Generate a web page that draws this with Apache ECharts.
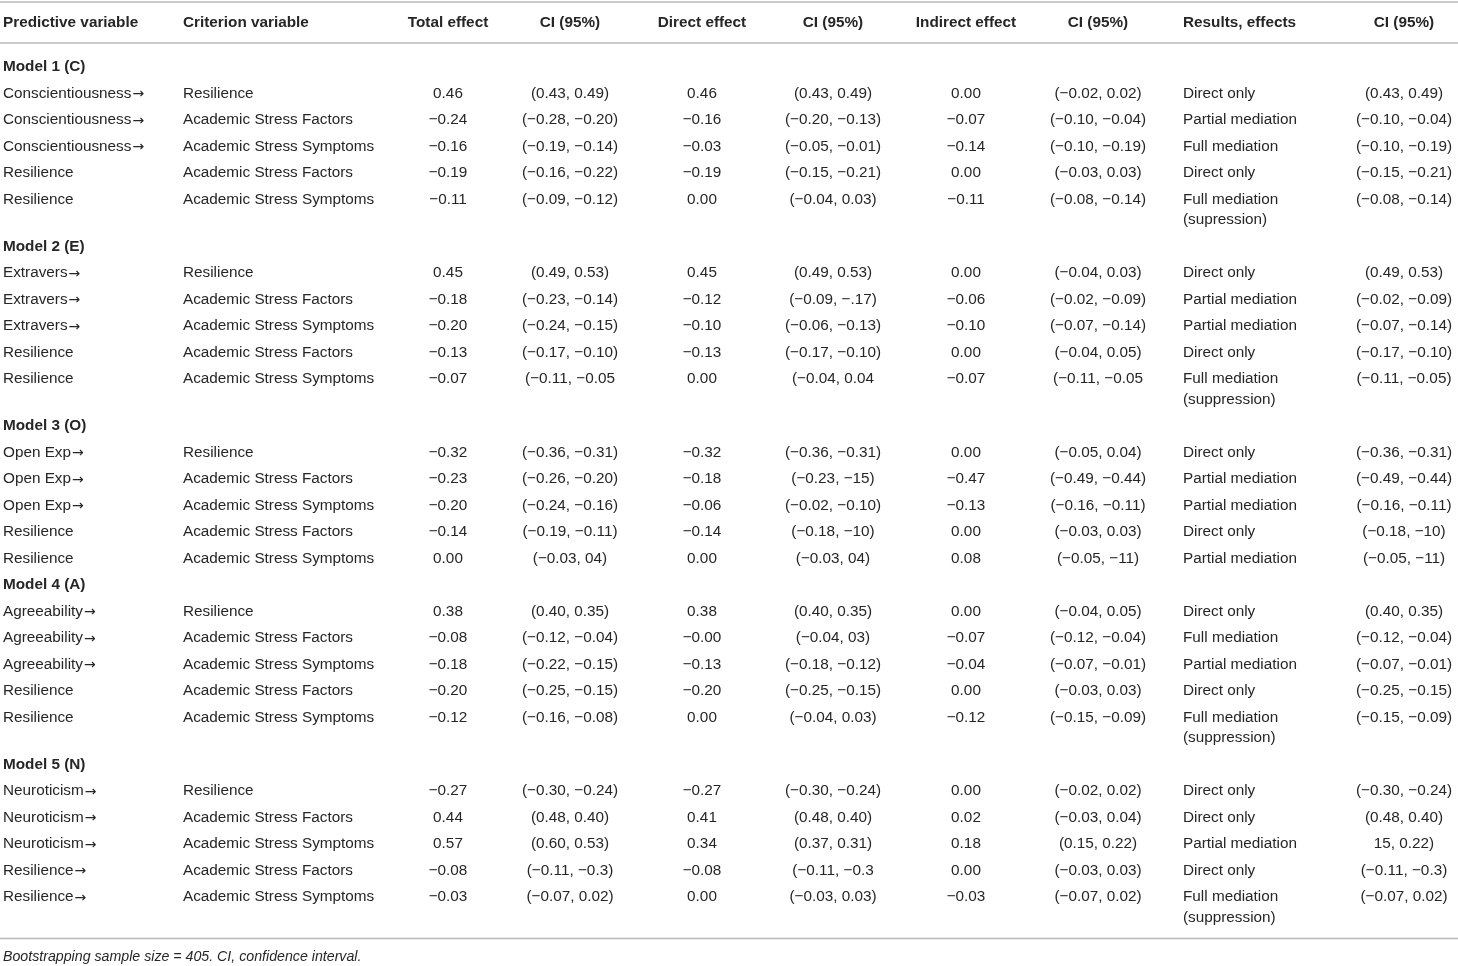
<!DOCTYPE html>
<html>
<head>
<meta charset="utf-8">
<title>Mediation effects table</title>
<script src="https://cdn.jsdelivr.net/npm/echarts@6.0.0/dist/echarts.min.js"></script>
<style>
  html, body { margin: 0; padding: 0; background: #fff; }
  #table { width: 1458px; height: 966px; }
</style>
</head>
<body>
<div id="table"></div>
<script>
(function () {
  'use strict';

  // --- Table data ---
  const headers = ['Predictive variable', 'Criterion variable', 'Total effect', 'CI (95%)',
    'Direct effect', 'CI (95%)', 'Indirect effect', 'CI (95%)', 'Results, effects', 'CI (95%)'];

  const modelNames = ['Model 1 (C)', 'Model 2 (E)', 'Model 3 (O)', 'Model 4 (A)', 'Model 5 (N)'];
  const modelSizes = [5, 5, 5, 5, 5];

  const predictors = [
    'Conscientiousness→', 'Conscientiousness→', 'Conscientiousness→', 'Resilience', 'Resilience',
    'Extravers→', 'Extravers→', 'Extravers→', 'Resilience', 'Resilience',
    'Open Exp→', 'Open Exp→', 'Open Exp→', 'Resilience', 'Resilience',
    'Agreeability→', 'Agreeability→', 'Agreeability→', 'Resilience', 'Resilience',
    'Neuroticism→', 'Neuroticism→', 'Neuroticism→', 'Resilience→', 'Resilience→'
  ];

  const criteria = [
    'Resilience', 'Academic Stress Factors', 'Academic Stress Symptoms', 'Academic Stress Factors', 'Academic Stress Symptoms',
    'Resilience', 'Academic Stress Factors', 'Academic Stress Symptoms', 'Academic Stress Factors', 'Academic Stress Symptoms',
    'Resilience', 'Academic Stress Factors', 'Academic Stress Symptoms', 'Academic Stress Factors', 'Academic Stress Symptoms',
    'Resilience', 'Academic Stress Factors', 'Academic Stress Symptoms', 'Academic Stress Factors', 'Academic Stress Symptoms',
    'Resilience', 'Academic Stress Factors', 'Academic Stress Symptoms', 'Academic Stress Factors', 'Academic Stress Symptoms'
  ];

  const totalEffect = [
    0.46, -0.24, -0.16, -0.19, -0.11,
    0.45, -0.18, -0.20, -0.13, -0.07,
    -0.32, -0.23, -0.20, -0.14, 0.00,
    0.38, -0.08, -0.18, -0.20, -0.12,
    -0.27, 0.44, 0.57, -0.08, -0.03
  ];

  const totalCI = [
    '(0.43, 0.49)', '(−0.28, −0.20)', '(−0.19, −0.14)', '(−0.16, −0.22)', '(−0.09, −0.12)',
    '(0.49, 0.53)', '(−0.23, −0.14)', '(−0.24, −0.15)', '(−0.17, −0.10)', '(−0.11, −0.05',
    '(−0.36, −0.31)', '(−0.26, −0.20)', '(−0.24, −0.16)', '(−0.19, −0.11)', '(−0.03, 04)',
    '(0.40, 0.35)', '(−0.12, −0.04)', '(−0.22, −0.15)', '(−0.25, −0.15)', '(−0.16, −0.08)',
    '(−0.30, −0.24)', '(0.48, 0.40)', '(0.60, 0.53)', '(−0.11, −0.3)', '(−0.07, 0.02)'
  ];

  const directEffect = [
    0.46, -0.16, -0.03, -0.19, 0.00,
    0.45, -0.12, -0.10, -0.13, 0.00,
    -0.32, -0.18, -0.06, -0.14, 0.00,
    0.38, -0.00, -0.13, -0.20, 0.00,
    -0.27, 0.41, 0.34, -0.08, 0.00
  ];

  const directCI = [
    '(0.43, 0.49)', '(−0.20, −0.13)', '(−0.05, −0.01)', '(−0.15, −0.21)', '(−0.04, 0.03)',
    '(0.49, 0.53)', '(−0.09, −.17)', '(−0.06, −0.13)', '(−0.17, −0.10)', '(−0.04, 0.04',
    '(−0.36, −0.31)', '(−0.23, −15)', '(−0.02, −0.10)', '(−0.18, −10)', '(−0.03, 04)',
    '(0.40, 0.35)', '(−0.04, 03)', '(−0.18, −0.12)', '(−0.25, −0.15)', '(−0.04, 0.03)',
    '(−0.30, −0.24)', '(0.48, 0.40)', '(0.37, 0.31)', '(−0.11, −0.3', '(−0.03, 0.03)'
  ];

  const indirectEffect = [
    0.00, -0.07, -0.14, 0.00, -0.11,
    0.00, -0.06, -0.10, 0.00, -0.07,
    0.00, -0.47, -0.13, 0.00, 0.08,
    0.00, -0.07, -0.04, 0.00, -0.12,
    0.00, 0.02, 0.18, 0.00, -0.03
  ];

  const indirectCI = [
    '(−0.02, 0.02)', '(−0.10, −0.04)', '(−0.10, −0.19)', '(−0.03, 0.03)', '(−0.08, −0.14)',
    '(−0.04, 0.03)', '(−0.02, −0.09)', '(−0.07, −0.14)', '(−0.04, 0.05)', '(−0.11, −0.05',
    '(−0.05, 0.04)', '(−0.49, −0.44)', '(−0.16, −0.11)', '(−0.03, 0.03)', '(−0.05, −11)',
    '(−0.04, 0.05)', '(−0.12, −0.04)', '(−0.07, −0.01)', '(−0.03, 0.03)', '(−0.15, −0.09)',
    '(−0.02, 0.02)', '(−0.03, 0.04)', '(0.15, 0.22)', '(−0.03, 0.03)', '(−0.07, 0.02)'
  ];

  const results = [
    'Direct only', 'Partial mediation', 'Full mediation', 'Direct only', 'Full mediation\n(supression)',
    'Direct only', 'Partial mediation', 'Partial mediation', 'Direct only', 'Full mediation\n(suppression)',
    'Direct only', 'Partial mediation', 'Partial mediation', 'Direct only', 'Partial mediation',
    'Direct only', 'Full mediation', 'Partial mediation', 'Direct only', 'Full mediation\n(suppression)',
    'Direct only', 'Direct only', 'Partial mediation', 'Direct only', 'Full mediation\n(suppression)'
  ];

  const resultCI = [
    '(0.43, 0.49)', '(−0.10, −0.04)', '(−0.10, −0.19)', '(−0.15, −0.21)', '(−0.08, −0.14)',
    '(0.49, 0.53)', '(−0.02, −0.09)', '(−0.07, −0.14)', '(−0.17, −0.10)', '(−0.11, −0.05)',
    '(−0.36, −0.31)', '(−0.49, −0.44)', '(−0.16, −0.11)', '(−0.18, −10)', '(−0.05, −11)',
    '(0.40, 0.35)', '(−0.12, −0.04)', '(−0.07, −0.01)', '(−0.25, −0.15)', '(−0.15, −0.09)',
    '(−0.30, −0.24)', '(0.48, 0.40)', '15, 0.22)', '(−0.11, −0.3)', '(−0.07, 0.02)'
  ];

  const footnote = 'Bootstrapping sample size = 405. CI, confidence interval.';

  // --- Layout ---
  const W = 1458, H = 966;
  const FONT = '"Liberation Sans", Arial, Helvetica, sans-serif';
  const FONT_SIZE = 15.3;
  const TEXT = '#262626';
  const RULE = '#b8b8b8';
  const colX = [3, 183, 448, 570, 702, 833, 966, 1098, 1183, 1404];
  const colAlign = ['left', 'left', 'center', 'center', 'center', 'center', 'center', 'center', 'left', 'center'];
  const headerY = 23;
  const firstY = 67;
  const rowStep = 26.5;
  const lineStep = 20.5;

  function fmt(v) {
    const s = Math.abs(v).toFixed(2);
    return (v < 0 || Object.is(v, -0)) ? '−' + s : s;
  }

  const columns = [
    predictors, criteria,
    totalEffect.map(fmt), totalCI,
    directEffect.map(fmt), directCI,
    indirectEffect.map(fmt), indirectCI,
    results, resultCI
  ];

  // --- Build cells ---
  const cells = [];
  function addCell(col, y, text, opts) {
    String(text).split('\n').forEach(function (line, li) {
      cells.push({
        value: [colX[col], y + li * lineStep],
        // arrows look better in DejaVu, the Liberation glyph is tiny
        text: line.replace(/→/g, '{arr|→}'),
        align: colAlign[col],
        bold: !!(opts && opts.bold)
      });
    });
  }

  headers.forEach(function (h, c) { addCell(c, headerY, h, { bold: true }); });

  let y = firstY;
  let row = 0;
  let lastLineY = y;
  modelNames.forEach(function (name, mi) {
    addCell(0, y, name, { bold: true });
    y += rowStep;
    for (let k = 0; k < modelSizes[mi]; k++, row++) {
      columns.forEach(function (arr, c) { addCell(c, y, arr[row]); });
      const extra = results[row].split('\n').length - 1;
      lastLineY = y + extra * lineStep;
      y += rowStep + extra * lineStep;
    }
  });

  const bottomRuleY = lastLineY + 21;
  const rules = [2, 43, bottomRuleY];
  const footY = bottomRuleY + 18.5;

  // --- Chart ---
  const chart = echarts.init(document.getElementById('table'), null, { renderer: 'canvas' });

  chart.setOption({
    backgroundColor: '#fff',
    animation: false,
    grid: { left: 0, right: 0, top: 0, bottom: 0 },
    xAxis: { type: 'value', min: 0, max: W, show: false },
    yAxis: { type: 'value', min: 0, max: H, inverse: true, show: false },
    series: [
      {
        type: 'custom',
        name: 'rules',
        silent: true,
        data: rules.map(function (ry) { return [0, ry]; }),
        renderItem: function (params, api) {
          const a = api.coord([0, api.value(1)]);
          const b = api.coord([W, api.value(1)]);
          return {
            type: 'line',
            shape: { x1: a[0], y1: a[1], x2: b[0], y2: b[1] },
            style: { stroke: RULE, lineWidth: 1.5 }
          };
        }
      },
      {
        type: 'custom',
        name: 'cells',
        silent: true,
        data: cells,
        renderItem: function (params, api) {
          const cell = cells[params.dataIndex];
          const p = api.coord([api.value(0), api.value(1)]);
          return {
            type: 'text',
            x: p[0],
            y: p[1],
            style: {
              text: cell.text,
              fill: TEXT,
              fontFamily: FONT,
              fontSize: FONT_SIZE,
              fontWeight: cell.bold ? 'bold' : 'normal',
              align: cell.align,
              verticalAlign: 'middle',
              rich: {
                arr: { fontFamily: '"DejaVu Sans"', fontSize: 14, fill: TEXT, padding: [2, 0, 0, 1] }
              }
            }
          };
        }
      },
      {
        type: 'custom',
        name: 'footnote',
        silent: true,
        data: [[colX[0], footY]],
        renderItem: function (params, api) {
          const p = api.coord([api.value(0), api.value(1)]);
          return {
            type: 'text',
            x: p[0],
            y: p[1],
            style: {
              text: footnote,
              fill: TEXT,
              fontFamily: FONT,
              fontSize: 14.2,
              fontStyle: 'italic',
              align: 'left',
              verticalAlign: 'middle'
            }
          };
        }
      }
    ]
  });

  window.addEventListener('resize', function () { chart.resize(); });
})();
</script>
</body>
</html>
